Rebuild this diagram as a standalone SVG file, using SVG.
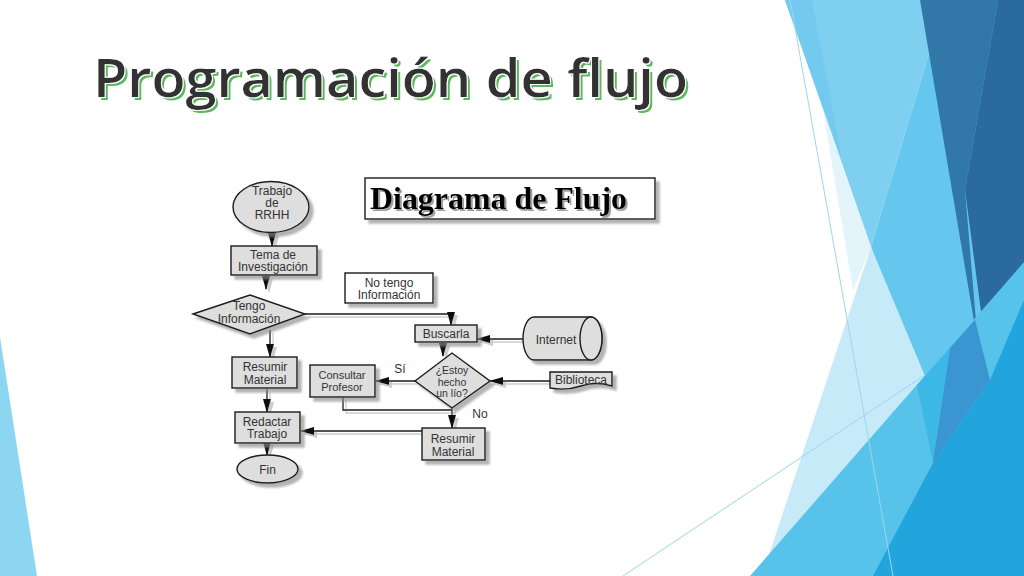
<svg xmlns="http://www.w3.org/2000/svg" width="1024" height="576" viewBox="0 0 1024 576">
<defs>
<style>
.nd{fill:#dedede;stroke:#1a1a1a;stroke-width:1.4}
.wt{fill:#fff;stroke:#1a1a1a;stroke-width:1.4}
.tx{font-family:"Liberation Sans",Arial,sans-serif;font-size:12px;fill:#333;text-anchor:middle}
.sm{font-size:11px}
.xs{font-size:10.5px}
.cn{fill:none;stroke:#1a1a1a;stroke-width:1.3}
.thin{fill:none;stroke:#9dd5ee;stroke-width:1}
</style>
<filter id="sh" x="-20%" y="-30%" width="150%" height="170%"><feDropShadow dx="4" dy="4" stdDeviation="0.8" flood-color="#8a8a8a" flood-opacity="0.65"/></filter>
<filter id="shl" x="-10%" y="-10%" width="130%" height="130%"><feDropShadow dx="3" dy="3" stdDeviation="0.6" flood-color="#9a9a9a" flood-opacity="0.5"/></filter>
<filter id="sht" x="-5%" y="-10%" width="115%" height="130%"><feDropShadow dx="2" dy="2" stdDeviation="0.6" flood-color="#777" flood-opacity="0.7"/></filter>
<filter id="tg" x="-5%" y="-20%" width="110%" height="150%">
<feMorphology in="SourceAlpha" operator="dilate" radius="0.9" result="d"/>
<feOffset in="SourceAlpha" dx="2.5" dy="2.5" result="o"/>
<feFlood flood-color="#5cb85c"/><feComposite in2="o" operator="in" result="g"/>
<feFlood flood-color="#ffffff"/><feComposite in2="d" operator="in" result="w"/>
<feMerge><feMergeNode in="g"/><feMergeNode in="w"/><feMergeNode in="SourceGraphic"/></feMerge>
</filter>
<marker id="ar" markerUnits="userSpaceOnUse" markerWidth="14" markerHeight="8" refX="13" refY="4" orient="auto"><path d="M0,0 L14,4 L0,8 Z" fill="#111"/></marker>
</defs>
<rect width="1024" height="576" fill="#fff"/>
<g id="decoration">
<polygon points="0,337 37,576 0,576" fill="#8dd6f2"/>
<polygon points="785,0 945,0 871,247" fill="#7fd0f0"/>
<polygon points="785,0 812,0 842,160" fill="#74caee"/>
<polygon points="945,0 1024,0 1024,576 920,380 871,247" fill="#65c7ee"/>
<polygon points="823,110 871,247 853,290" fill="#e3f4fb"/>
<polygon points="871,247 935,400 762,576" fill="#c7eaf8"/>
<polygon points="920,0 998,0 965,190 978,345" fill="#3178a8"/>
<polygon points="998,0 1024,0 1024,300 990,380 965,190" fill="#2a6a9c"/>
<polygon points="750,576 1024,262 1024,576" fill="#57c2ea"/>
<polygon points="917,385 950,348 933,463" fill="#3cb8e6"/>
<polygon points="950,348 975,320 990,380 933,463" fill="#3a95d0"/>
<polygon points="873,576 933,463 990,380 1024,300 1024,576" fill="#22a4dc"/>
<line x1="790" y1="0" x2="893" y2="576" class="thin"/>
<line x1="623" y1="576" x2="925" y2="375" class="thin"/>
</g>
<g id="title">
<text x="93" y="97" font-family="'Open Sans','Noto Sans',sans-serif" font-weight="600" font-size="53" textLength="595" lengthAdjust="spacingAndGlyphs" fill="#333" filter="url(#tg)">Programación de flujo</text>
</g>
<g id="diagrama-header">
<rect x="365" y="178" width="290" height="41" class="wt" filter="url(#sh)"/>
<text x="370" y="209" font-family="'Liberation Serif','Times New Roman',serif" font-weight="bold" font-size="31" textLength="257" lengthAdjust="spacingAndGlyphs" fill="#000" filter="url(#sht)">Diagrama de Flujo</text>
</g>
<g id="connectors">
<g filter="url(#shl)">
<path d="M272,233 V246" class="cn" marker-end="url(#ar)"/>
<path d="M266,275 V289" class="cn" marker-end="url(#ar)"/>
<path d="M305,314 H451 V325" class="cn" marker-end="url(#ar)"/>
<path d="M270,330 V357" class="cn" marker-end="url(#ar)"/>
<path d="M267,389 V412" class="cn" marker-end="url(#ar)"/>
<path d="M267,443 V455" class="cn" marker-end="url(#ar)"/>
<path d="M443,342 V356" class="cn" marker-end="url(#ar)"/>
<path d="M523,339 H477" class="cn" marker-end="url(#ar)"/>
<path d="M550,381 H490" class="cn" marker-end="url(#ar)"/>
<path d="M415,381 H376" class="cn" marker-end="url(#ar)"/>
<path d="M343,397 V410 H452" class="cn"/>
<path d="M452,408 V428" class="cn" marker-end="url(#ar)"/>
<path d="M422,431 H301" class="cn" marker-end="url(#ar)"/>
</g>
<text x="400" y="373" class="tx">Sí</text>
<text x="480" y="418" class="tx">No</text>
</g>
<g id="n-trabajo">
<ellipse cx="271" cy="207" rx="38" ry="25.5" class="nd" filter="url(#sh)"/>
<text x="272" y="195" class="tx">Trabajo</text>
<text x="272" y="207" class="tx">de</text>
<text x="272" y="219" class="tx">RRHH</text>
</g>
<g id="n-tema">
<rect x="231" y="246" width="86" height="29" class="nd" filter="url(#sh)"/>
<text x="273" y="259" class="tx">Tema de</text>
<text x="273" y="271" class="tx">Investigación</text>
</g>
<g id="n-tengo">
<polygon points="193,314 250,295 305,314 250,334" class="nd" filter="url(#sh)"/>
<text x="249" y="310" class="tx">Tengo</text>
<text x="249" y="323" class="tx">Información</text>
</g>
<g id="n-resumir1">
<rect x="232" y="357" width="65" height="31" class="nd" filter="url(#sh)"/>
<text x="265" y="371" class="tx">Resumir</text>
<text x="265" y="384" class="tx">Material</text>
</g>
<g id="n-redactar">
<rect x="235" y="412" width="65" height="31" class="nd" filter="url(#sh)"/>
<text x="267" y="426" class="tx">Redactar</text>
<text x="267" y="438" class="tx">Trabajo</text>
</g>
<g id="n-fin">
<ellipse cx="267.5" cy="469" rx="30.5" ry="14" class="nd" filter="url(#sh)"/>
<text x="267.5" y="474" class="tx">Fin</text>
</g>
<g id="n-notengo">
<rect x="345" y="273" width="88" height="30" class="wt" filter="url(#sh)"/>
<text x="389" y="287" class="tx">No tengo</text>
<text x="389" y="299" class="tx">Información</text>
</g>
<g id="n-buscarla">
<rect x="415" y="325" width="62" height="17" class="nd" filter="url(#sh)"/>
<text x="446" y="338" class="tx">Buscarla</text>
</g>
<g id="n-estoy">
<polygon points="415,381 452,353 490,381 452,408" class="nd" filter="url(#sh)"/>
<text x="452" y="374" class="tx xs">¿Estoy</text>
<text x="452" y="385.5" class="tx xs">hecho</text>
<text x="452" y="397" class="tx xs">un lío?</text>
</g>
<g id="n-consultar">
<rect x="310" y="365" width="65" height="32" class="nd" filter="url(#sh)"/>
<text x="342" y="379" class="tx sm">Consultar</text>
<text x="342" y="391" class="tx sm">Profesor</text>
</g>
<g id="n-resumir2">
<rect x="422" y="428" width="63" height="32" class="nd" filter="url(#sh)"/>
<text x="453" y="443" class="tx">Resumir</text>
<text x="453" y="456" class="tx">Material</text>
</g>
<g id="n-internet">
<path d="M534,317 H591 A11,21.5 0 0 1 591,360 H534 A11,21.5 0 0 1 534,317 Z" class="nd" filter="url(#sh)"/>
<ellipse cx="591" cy="338.5" rx="11" ry="21.5" class="nd"/>
<text x="556" y="344" class="tx">Internet</text>
</g>
<g id="n-biblioteca">
<path d="M550,372 H612 V386 Q596,381 581,386 T550,388 Z" class="nd" filter="url(#sh)"/>
<text x="581" y="384" class="tx">Biblioteca</text>
</g>
</svg>
